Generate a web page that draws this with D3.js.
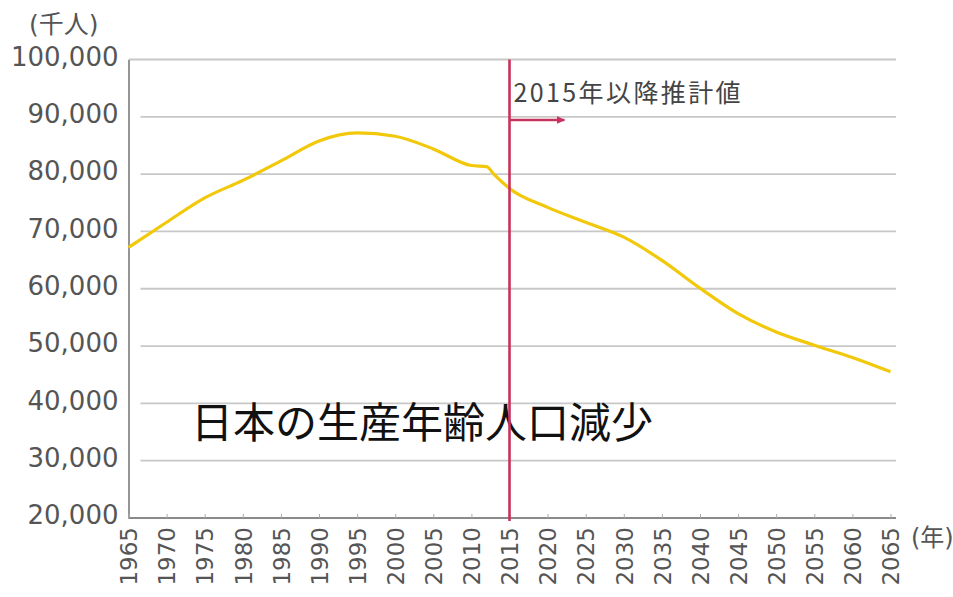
<!DOCTYPE html>
<html>
<head>
<meta charset="utf-8">
<script src="https://cdn.jsdelivr.net/npm/d3@7/dist/d3.min.js"></script>
<style>
  html, body { margin: 0; padding: 0; background: #fff; }
  svg { display: block; }
</style>
</head>
<body>
<svg id="chart" width="953" height="597"></svg>
<script>
// Working-age population of Japan (thousands); 2015 onward are projections
const years = [1965, 1970, 1975, 1980, 1985, 1990, 1995, 2000, 2005, 2010, 2012, 2013, 2015,
               2020, 2025, 2030, 2035, 2040, 2045, 2050, 2055, 2060, 2065];
const population = [67200, 71600, 75850, 78900, 82300, 85800, 87200, 86600, 84400, 81500, 81300, 79900, 77500,
                    74200, 71600, 69000, 64950, 60100, 55650, 52450, 50150, 48000, 45500];
const yTicks = [20000, 30000, 40000, 50000, 60000, 70000, 80000, 90000, 100000];
const xTicks = d3.range(1965, 2066, 5);
const projectionStart = 2015;
const projectionLabel = "2015年以降推計値";
const title = "日本の生産年齢人口減少";
const yUnit = "(千人)";
const xUnit = "(年)";

const svg = d3.select("#chart");
const plotLeft = 128.5, plotRight = 890.5, plotTop = 59.5, plotBottom = 518;
const x = d3.scaleLinear().domain([1965, 2065]).range([plotLeft, plotRight]);
const y = d3.scaleLinear().domain([20000, 100000]).range([plotBottom, plotTop]);

const labelFont = "'DejaVu Sans', 'Noto Sans CJK JP', sans-serif";
const cjkFont = "'Noto Sans CJK JP', 'Noto Sans', sans-serif";

// horizontal gridlines
svg.append("g").selectAll("line")
  .data(yTicks.filter(v => v > 20000))
  .join("line")
  .attr("x1", v => v === 100000 ? plotLeft : plotLeft + 12)
  .attr("x2", 896)
  .attr("y1", d => y(d)).attr("y2", d => y(d))
  .attr("stroke", "#c8c8c8")
  .attr("stroke-width", 1.8);

// y axis
const yAxis = svg.append("g")
  .attr("transform", `translate(${plotLeft},0)`)
  .call(d3.axisLeft(y).tickValues(yTicks).tickFormat(d3.format(",")).tickSize(0).tickPadding(10));
yAxis.select(".domain").attr("stroke", "#8a8a8a").attr("stroke-width", 1.8);
yAxis.selectAll("text")
  .attr("font-family", labelFont)
  .attr("font-size", 26)
  .attr("fill", "#555")
  .attr("dy", "0.22em");

// x axis
const xAxis = svg.append("g")
  .attr("transform", `translate(0,${plotBottom})`)
  .call(d3.axisBottom(x).tickValues(xTicks).tickFormat(d3.format("d")).tickSize(-4).tickSizeOuter(0));
xAxis.select(".domain").attr("stroke", "#8a8a8a").attr("stroke-width", 1.8).attr("d", `M${plotLeft},0H896`);
xAxis.selectAll(".tick line").attr("stroke", "#aaa").attr("stroke-width", 1);
xAxis.selectAll("text")
  .attr("font-family", labelFont)
  .attr("font-size", 23)
  .attr("fill", "#555")
  .attr("transform", "rotate(-90)")
  .attr("x", -9)
  .attr("y", 0)
  .attr("dy", "0.36em")
  .attr("text-anchor", "end");

// unit labels
svg.append("text")
  .attr("x", 29).attr("y", 33)
  .attr("font-family", labelFont)
  .attr("font-size", 25)
  .attr("fill", "#555")
  .text(yUnit);
svg.append("text")
  .attr("x", 911).attr("y", 546)
  .attr("font-family", labelFont)
  .attr("font-size", 24)
  .attr("fill", "#555")
  .text(xUnit);

// population line
const line = d3.line()
  .x((d, i) => x(years[i]))
  .y(d => y(d))
  .curve(d3.curveMonotoneX);
svg.append("path")
  .datum(population)
  .attr("d", line)
  .attr("fill", "none")
  .attr("stroke", "#f2c80a")
  .attr("stroke-width", 3.2)
  .attr("stroke-linejoin", "round");

// title
svg.append("text")
  .attr("x", 191).attr("y", 438)
  .attr("font-family", cjkFont)
  .attr("font-size", 42)
  .attr("fill", "#111")
  .text(title);

// projection marker
const red = "#c8325e";
const px = x(projectionStart);
svg.append("line")
  .attr("x1", px).attr("x2", px)
  .attr("y1", plotTop).attr("y2", plotBottom + 3)
  .attr("stroke", red).attr("stroke-width", 2.6);

svg.append("defs").append("marker")
  .attr("id", "arrow")
  .attr("viewBox", "0 0 10 10")
  .attr("refX", 8).attr("refY", 5)
  .attr("markerWidth", 4).attr("markerHeight", 4)
  .attr("orient", "auto")
  .append("path")
  .attr("d", "M0,1L9,5L0,9Z")
  .attr("fill", red);

svg.append("line")
  .attr("x1", px).attr("x2", x(2022.2))
  .attr("y1", 120).attr("y2", 120)
  .attr("stroke", red).attr("stroke-width", 2.4)
  .attr("marker-end", "url(#arrow)");

svg.append("text")
  .attr("x", px + 4).attr("y", 102)
  .attr("font-family", cjkFont)
  .attr("font-size", 25)
  .attr("letter-spacing", 2.4)
  .attr("fill", "#444")
  .text(projectionLabel);
</script>
</body>
</html>
